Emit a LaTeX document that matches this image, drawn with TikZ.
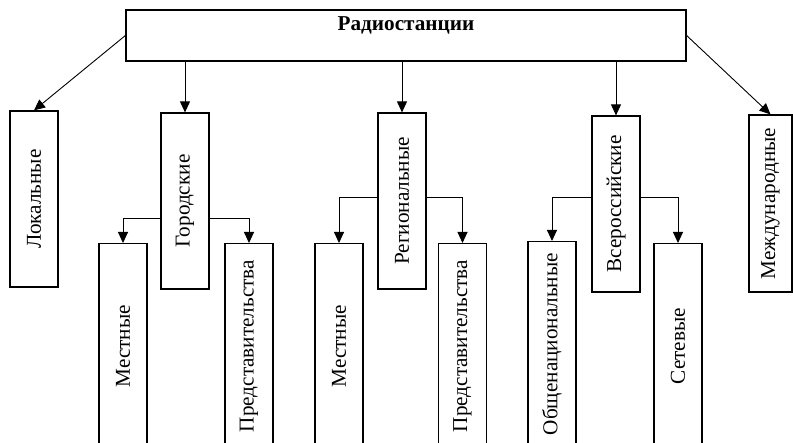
\documentclass[tikz,border=0pt]{standalone}
\usepackage{fontspec}
\setmainfont{Liberation Serif}
\usetikzlibrary{arrows.meta}

\tikzset{
    arr/.style={line width=0.9pt, -{Triangle[length=11pt,width=10pt]}},
    vbox/.style={draw, line width=1.2pt, minimum width=48pt, minimum height=176pt, inner sep=0pt},
    lowbox/.style={vbox, minimum height=205pt, anchor=north},
}

\begin{document}
\begin{tikzpicture}[x=1pt,y=-1pt,font=\fontsize{21.2}{25}\selectfont]
    \useasboundingbox (0,0) rectangle (793,443);
    \clip (0,0) rectangle (793,443);
    \node[draw, line width=1.2pt, minimum width=560pt, minimum height=51pt,
        label={[anchor=north, inner sep=7pt, font=\fontsize{21.2}{25}\selectfont\bfseries]north:Радиостанции}] (radio) at (406,35.5) {};
    \node[vbox] (lok) at (34,199) {\rotatebox{90}{Локальные}};
    \node[vbox] (gor) at (185,201) {\rotatebox{90}{Городские}};
    \node[vbox] (reg) at (402,201) {\rotatebox{90}{Региональные}};
    \node[vbox] (vse) at (616,204) {\rotatebox{90}{Всероссийские}};
    \node[vbox, minimum width=43pt, minimum height=177pt] (mezh) at (770.5,203.5) {\rotatebox{90}{Международные}};
    \node[lowbox] (mest1) at (123,243) {\rotatebox{90}{Местные}};
    \node[lowbox] (pred1) at (249,243) {\rotatebox{90}{Представительства}};
    \node[lowbox] (mest2) at (339,243) {\rotatebox{90}{Местные}};
    \node[lowbox] (pred2) at (462.5,243) {\rotatebox{90}{Представительства}};
    \node[lowbox] (obsh) at (552,241) {\rotatebox{90}{Общенациональные}};
    \node[lowbox] (set) at (678,243) {\rotatebox{90}{Сетевые}};
    \draw[arr] (radio.west) -- (lok.north);
    \draw[arr] (radio.south -| gor.north) -- (gor.north);
    \draw[arr] (radio.south -| reg.north) -- (reg.north);
    \draw[arr] (radio.south -| vse.north) -- (vse.north);
    \draw[arr] (radio.east) -- (mezh.north);
    \draw[arr] ([yshift=-17pt]gor.west) -| (mest1.north);
    \draw[arr] ([yshift=-17pt]gor.east) -| (pred1.north);
    \draw[arr] ([yshift=4pt]reg.west) -| (mest2.north);
    \draw[arr] ([yshift=4pt]reg.east) -| (pred2.north);
    \draw[arr] ([yshift=7pt]vse.west) -| (obsh.north);
    \draw[arr] ([yshift=7pt]vse.east) -| (set.north);
\end{tikzpicture}
\end{document}
